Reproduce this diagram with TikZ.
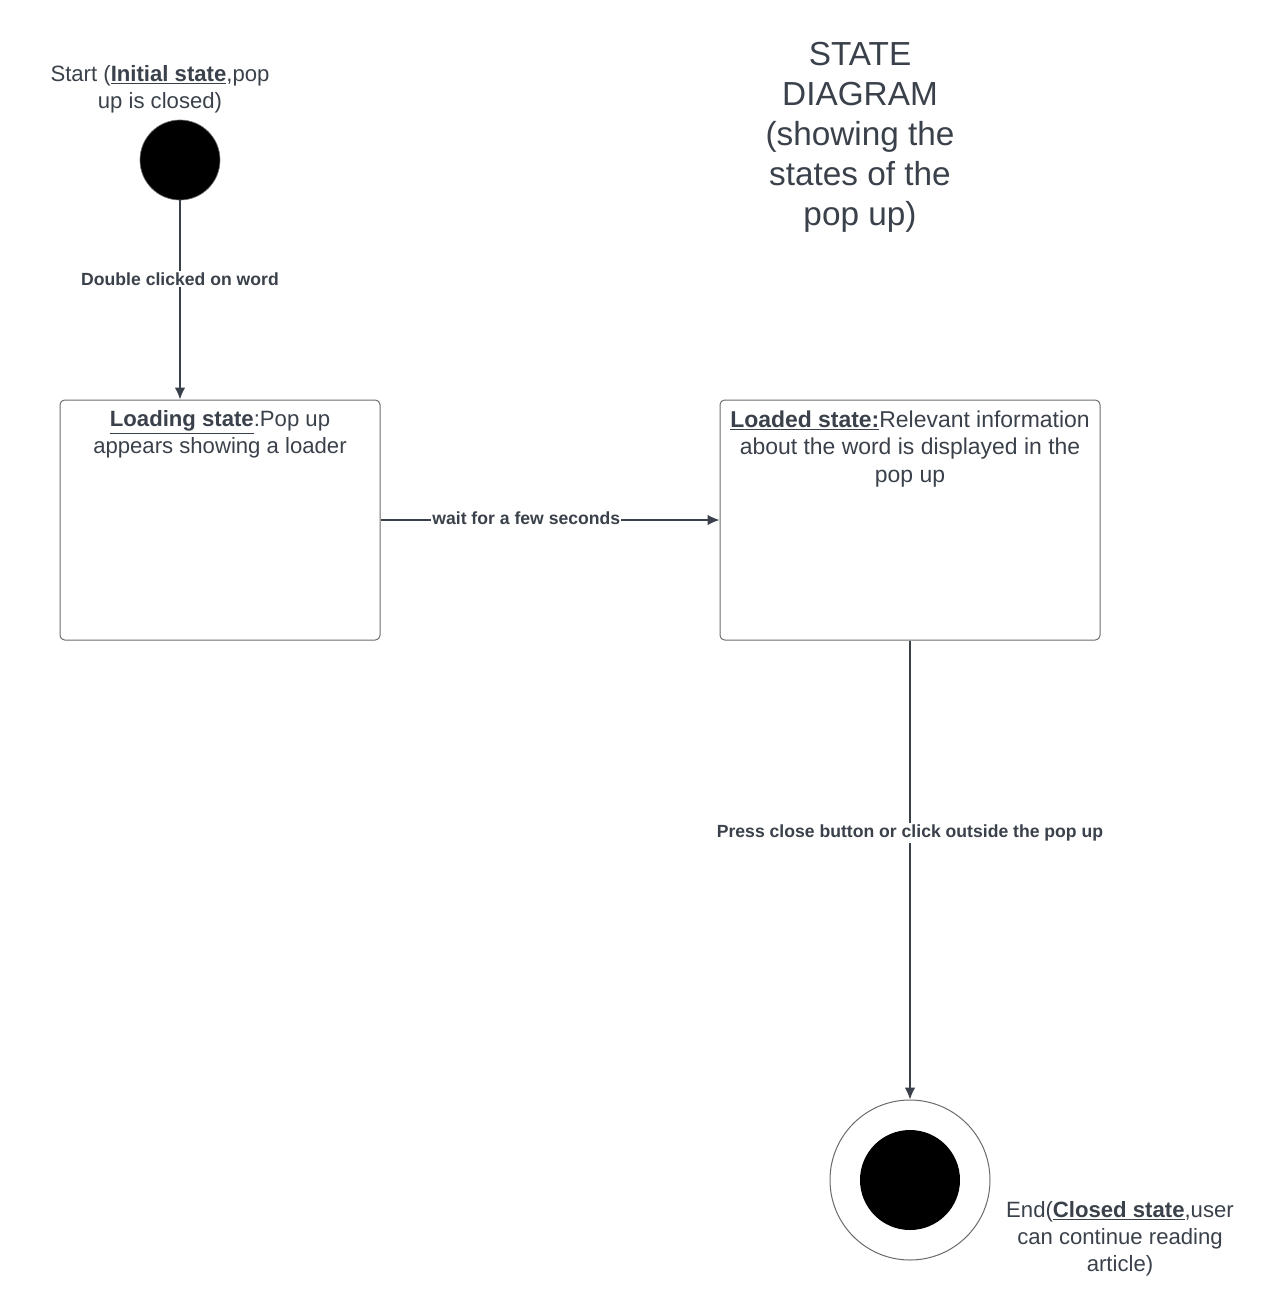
\documentclass[tikz,border=0pt]{standalone}
\usepackage{fontspec}
\setmainfont{Liberation Sans}
\usetikzlibrary{arrows.meta}
\definecolor{ink}{HTML}{3A414A}
\definecolor{edge}{HTML}{6B6B6B}
\tikzset{
  body/.style={text=ink, font=\fontsize{16.6}{20.25}\selectfont, align=center, inner sep=0pt},
  ttl/.style={text=ink, font=\fontsize{25}{30}\selectfont, align=center, inner sep=0pt},
  lbl/.style={text=ink, font=\bfseries\fontsize{13.2}{15}\selectfont, fill=white, inner sep=1pt},
  statebox/.style={draw=edge, line width=0.75pt, rounded corners=3.5pt, minimum width=240pt, minimum height=180pt, inner sep=0pt},
  conn/.style={draw=ink, line width=1.1pt, -{Latex[length=9pt,width=8pt]}},
}
\begin{document}
\begin{tikzpicture}[x=0.75pt,y=-0.75pt]
\useasboundingbox (0,0) rectangle (1280,1300);
% title
\node[ttl, anchor=north] (title) at (860,42) {STATE\\DIAGRAM\\(showing the\\states of the\\pop up)};
% start
\node[circle, fill=black, draw=edge, line width=0.5pt, minimum size=60pt, inner sep=0pt] (start) at (180,160) {};
\node[body, anchor=north] (startlbl) at (160,65) {Start (\textbf{\underline{Initial state}},pop\\up is closed)};
% loading box
\node[statebox, minimum width=240pt] (loading) at (220,520) {};
\node[body, anchor=north] (loadingtxt) at ([yshift=-8pt]loading.north) {\textbf{\underline{Loading state}}:Pop up\\appears showing a loader};
% loaded box
\node[statebox, minimum width=285pt] (loaded) at (910,520) {};
\node[body, anchor=north, font=\fontsize{17.2}{20.8}\selectfont] (loadedtxt) at ([yshift=-8pt]loaded.north) {\textbf{\underline{Loaded state:}}Relevant information\\about the word is displayed in the\\pop up};
% end
\node[circle, draw=edge, line width=0.75pt, fill=white, minimum size=120pt, inner sep=0pt] (endo) at (910,1180) {};
\node[circle, fill=black, minimum size=75pt, inner sep=0pt] (endi) at (910,1180) {};
\node[body, anchor=north] (endlbl) at (1120,1201) {End(\textbf{\underline{Closed state}},user\\can continue reading\\article)};
% connectors
\draw[conn] (start.south) -- node[lbl, pos=0.395] {Double clicked on word} (loading.north -| start.south);
\draw[conn] (loading.east) -- node[lbl, pos=0.43, yshift=1.5pt] {wait for a few seconds} (loaded.west);
\draw[conn] (loaded.south) -- node[lbl, pos=0.415, yshift=-1.5pt] {Press close button or click outside the pop up} (endo.north);
\end{tikzpicture}
\end{document}
